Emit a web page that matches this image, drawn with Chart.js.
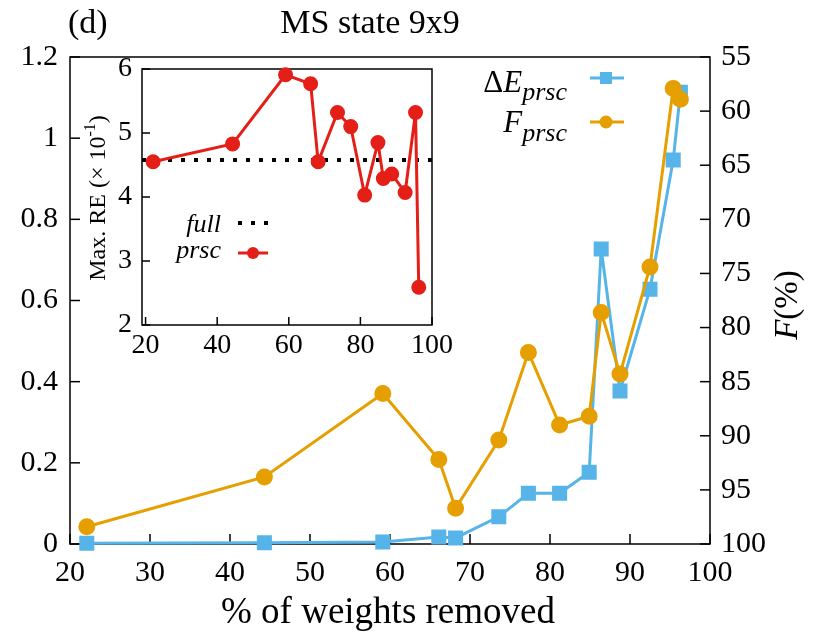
<!DOCTYPE html>
<html>
<head>
<meta charset="utf-8">
<script src="https://cdn.jsdelivr.net/npm/chart.js@4.4.1/dist/chart.umd.min.js"></script>
<style>
    body { margin: 0; background: #fff; }
    #wrap { position: relative; width: 830px; height: 638px; }
    #mainChart { position: absolute; left: 0; top: 0; }
    #insetChart { position: absolute; left: 80px; top: 42px; }
</style>
</head>
<body>
<div id="wrap">
    <canvas id="mainChart" width="830" height="638"></canvas>
    <canvas id="insetChart" width="390" height="338"></canvas>
</div>
<script>
// % of weights removed (shared by main plot and inset)
const removedPct = [22.1, 44.3, 59.1, 66.1, 68.2, 73.6, 77.3, 81.2, 84.9, 86.4, 88.75, 92.5, 95.4, 96.3];
// main plot series
const deltaE = [0.002, 0.003, 0.005, 0.017, 0.015, 0.067, 0.125, 0.125, 0.177, 0.727, 0.377, 0.628, 0.946, 1.113];
const fidelity = [98.4, 93.8, 86.1, 92.2, 96.7, 90.4, 82.3, 89.0, 88.2, 78.6, 84.3, 74.4, 57.9, 58.9];
// inset series
const maxRE = [4.55, 4.83, 5.91, 5.77, 4.55, 5.32, 5.10, 4.03, 4.85, 4.29, 4.36, 4.07, 5.32, 2.59];
const fullRE = 4.58;
const insetRange = [19, 100];

const BLUE = '#56b4e9';
const ORANGE = '#e69f00';
const RED = '#e41f18';
const SERIF = '"Liberation Serif", "Times New Roman", serif';

Chart.defaults.font.family = SERIF;
Chart.defaults.color = '#000';

function pts(xs, ys) {
    return xs.map((x, i) => ({ x: x, y: ys[i] }));
}

// draws tick marks pointing into the plot
function inwardTicks(ctx, scale, area, len, side) {
    scale.ticks.forEach(t => {
        const p = scale.getPixelForValue(t.value);
        ctx.beginPath();
        if (side === 'bottom') { ctx.moveTo(p, area.bottom); ctx.lineTo(p, area.bottom - len); }
        if (side === 'left') { ctx.moveTo(area.left, p); ctx.lineTo(area.left + len, p); }
        if (side === 'right') { ctx.moveTo(area.right, p); ctx.lineTo(area.right - len, p); }
        ctx.stroke();
    });
}

// text made of runs (italic / sub / superscript), returns width
function runs(ctx, parts, x, y, draw) {
    let w = 0;
    parts.forEach(p => {
        ctx.font = (p.it ? 'italic ' : '') + p.size + 'px ' + SERIF;
        if (draw) ctx.fillText(p.t, x + w, y + (p.dy || 0));
        w += ctx.measureText(p.t).width;
    });
    return w;
}
function runsRight(ctx, parts, right, y) {
    const w = runs(ctx, parts, 0, 0, false);
    runs(ctx, parts, right - w, y, true);
}
function runsCenter(ctx, parts, cx, y) {
    const w = runs(ctx, parts, 0, 0, false);
    runs(ctx, parts, cx - w / 2, y, true);
}

const mainDecor = {
    id: 'mainDecor',
    beforeDatasetsDraw(chart) {
        const { ctx, chartArea: a, scales } = chart;
        ctx.save();
        ctx.strokeStyle = '#000';
        ctx.lineWidth = 1.5;
        ctx.strokeRect(a.left, a.top, a.right - a.left, a.bottom - a.top);
        inwardTicks(ctx, scales.x, a, 10, 'bottom');
        inwardTicks(ctx, scales.yE, a, 10, 'left');
        inwardTicks(ctx, scales.yF, a, 10, 'right');
        ctx.restore();
    },
    afterDraw(chart) {
        const { ctx } = chart;
        ctx.save();
        ctx.fillStyle = '#000';
        ctx.textBaseline = 'alphabetic';
        // titles
        ctx.font = '34px ' + SERIF;
        ctx.fillText('(d)', 68, 33);
        ctx.textAlign = 'center';
        ctx.fillText('MS state 9x9', 370, 33);
        ctx.font = '37px ' + SERIF;
        ctx.fillText('% of weights removed', 388, 623);
        ctx.textAlign = 'left';

        // right axis title F(%)
        ctx.save();
        ctx.translate(797, 305);
        ctx.rotate(-Math.PI / 2);
        runsCenter(ctx, [{ t: 'F', it: true, size: 33 }, { t: '(%)', size: 33 }], 0, 0);
        ctx.restore();

        // legend
        const ds = chart.data.datasets;
        const rows = [
            { d: ds[1], y: 78, base: 92, parts: [{ t: '\u0394', size: 31 }, { t: 'E', it: true, size: 31 }, { t: 'prsc', it: true, size: 26, dy: 8 }] },
            { d: ds[0], y: 122, base: 132, parts: [{ t: 'F', it: true, size: 31 }, { t: 'prsc', it: true, size: 26, dy: 9 }] }
        ];
        rows.forEach(r => {
            runsRight(ctx, r.parts, 567, r.base);
            ctx.strokeStyle = r.d.borderColor;
            ctx.lineWidth = r.d.borderWidth;
            ctx.beginPath();
            ctx.moveTo(590, r.y);
            ctx.lineTo(624, r.y);
            ctx.stroke();
            ctx.fillStyle = r.d.pointBackgroundColor;
            ctx.beginPath();
            if (r.d.pointStyle === 'rect') ctx.rect(600, r.y - 6, 12, 12);
            else ctx.arc(606, r.y, 6.5, 0, Math.PI * 2);
            ctx.fill();
            ctx.fillStyle = '#000';
        });
        ctx.restore();
    }
};

new Chart(document.getElementById('mainChart'), {
    type: 'line',
    data: {
        datasets: [
            {
                label: 'F_prsc',
                data: pts(removedPct, fidelity),
                yAxisID: 'yF',
                borderColor: ORANGE,
                backgroundColor: ORANGE,
                pointBackgroundColor: ORANGE,
                pointBorderColor: ORANGE,
                borderWidth: 3,
                pointStyle: 'circle',
                pointRadius: 7,
                tension: 0,
                clip: false
            },
            {
                label: 'dE_prsc',
                data: pts(removedPct, deltaE),
                yAxisID: 'yE',
                borderColor: BLUE,
                backgroundColor: BLUE,
                pointBackgroundColor: BLUE,
                pointBorderColor: BLUE,
                borderWidth: 3,
                pointStyle: 'rect',
                pointRadius: 8.5,
                tension: 0,
                clip: false
            }
        ]
    },
    options: {
        responsive: false,
        animation: false,
        layout: { padding: { top: 57 } },
        plugins: { legend: { display: false }, tooltip: { enabled: false } },
        scales: {
            x: {
                type: 'linear', min: 20, max: 100,
                ticks: { stepSize: 10, padding: 11, font: { size: 30 }, maxRotation: 0 },
                grid: { display: false, drawTicks: false },
                border: { display: false },
                afterFit(s) { s.height = 94; }
            },
            yE: {
                position: 'left', min: 0, max: 1.2,
                ticks: { stepSize: 0.2, padding: 12, font: { size: 30 }, callback: v => String(+v.toFixed(1)) },
                grid: { display: false, drawTicks: false },
                border: { display: false },
                afterFit(s) { s.width = 70; }
            },
            yF: {
                position: 'right', min: 55, max: 100, reverse: true,
                ticks: { stepSize: 5, padding: 11, font: { size: 30 } },
                grid: { display: false, drawTicks: false },
                border: { display: false },
                afterFit(s) { s.width = 120; }
            }
        }
    },
    plugins: [mainDecor]
});

const insetDecor = {
    id: 'insetDecor',
    beforeDatasetsDraw(chart) {
        const { ctx, chartArea: a, scales } = chart;
        ctx.save();
        ctx.fillStyle = '#fff';
        ctx.fillRect(a.left, a.top, a.right - a.left, a.bottom - a.top);
        ctx.strokeStyle = '#000';
        ctx.lineWidth = 1.5;
        ctx.strokeRect(a.left, a.top, a.right - a.left, a.bottom - a.top);
        inwardTicks(ctx, scales.x, a, 8, 'bottom');
        inwardTicks(ctx, scales.y, a, 8, 'left');
        ctx.restore();
    },
    afterDraw(chart) {
        const { ctx } = chart;
        const ds = chart.data.datasets;
        ctx.save();
        ctx.fillStyle = '#000';
        // y title
        ctx.save();
        ctx.translate(25, 156);
        ctx.rotate(-Math.PI / 2);
        runsCenter(ctx, [{ t: 'Max. RE (\u00d7 10', size: 24 }, { t: '-1', size: 16, dy: -10 }, { t: ')', size: 24 }], 0, 0);
        ctx.restore();

        // legend
        ctx.font = 'italic 26px ' + SERIF;
        ctx.textAlign = 'right';
        ctx.fillText('full', 141, 190);
        ctx.fillText('prsc', 141, 216);
        ctx.strokeStyle = ds[1].borderColor;
        ctx.lineWidth = ds[1].borderWidth;
        ctx.setLineDash(ds[1].borderDash);
        ctx.beginPath();
        ctx.moveTo(158, 181);
        ctx.lineTo(190, 181);
        ctx.stroke();
        ctx.setLineDash([]);
        ctx.strokeStyle = ds[0].borderColor;
        ctx.lineWidth = ds[0].borderWidth;
        ctx.beginPath();
        ctx.moveTo(158, 211);
        ctx.lineTo(188, 211);
        ctx.stroke();
        ctx.fillStyle = ds[0].pointBackgroundColor;
        ctx.beginPath();
        ctx.arc(173, 211, 6, 0, Math.PI * 2);
        ctx.fill();
        ctx.restore();
    }
};

new Chart(document.getElementById('insetChart'), {
    type: 'line',
    data: {
        datasets: [
            {
                label: 'prsc',
                data: pts(removedPct, maxRE),
                borderColor: RED,
                backgroundColor: RED,
                pointBackgroundColor: RED,
                pointBorderColor: RED,
                borderWidth: 3,
                pointRadius: 6,
                tension: 0,
                clip: false
            },
            {
                label: 'full',
                data: pts(insetRange, [fullRE, fullRE]),
                borderColor: '#000',
                borderWidth: 4,
                borderDash: [4, 9],
                pointRadius: 0,
                tension: 0
            }
        ]
    },
    options: {
        responsive: false,
        animation: false,
        layout: { padding: { top: 27, right: 38 } },
        plugins: { legend: { display: false }, tooltip: { enabled: false } },
        scales: {
            x: {
                type: 'linear', min: insetRange[0], max: insetRange[1],
                afterBuildTicks(s) { s.ticks = [20, 40, 60, 80, 100].map(v => ({ value: v })); },
                ticks: { padding: 4, font: { size: 28 }, maxRotation: 0 },
                grid: { display: false, drawTicks: false },
                border: { display: false },
                afterFit(s) { s.height = 55; }
            },
            y: {
                min: 2, max: 6,
                ticks: { stepSize: 1, padding: 10, font: { size: 28 } },
                grid: { display: false, drawTicks: false },
                border: { display: false },
                afterFit(s) { s.width = 62; }
            }
        }
    },
    plugins: [insetDecor]
});
</script>
</body>
</html>
